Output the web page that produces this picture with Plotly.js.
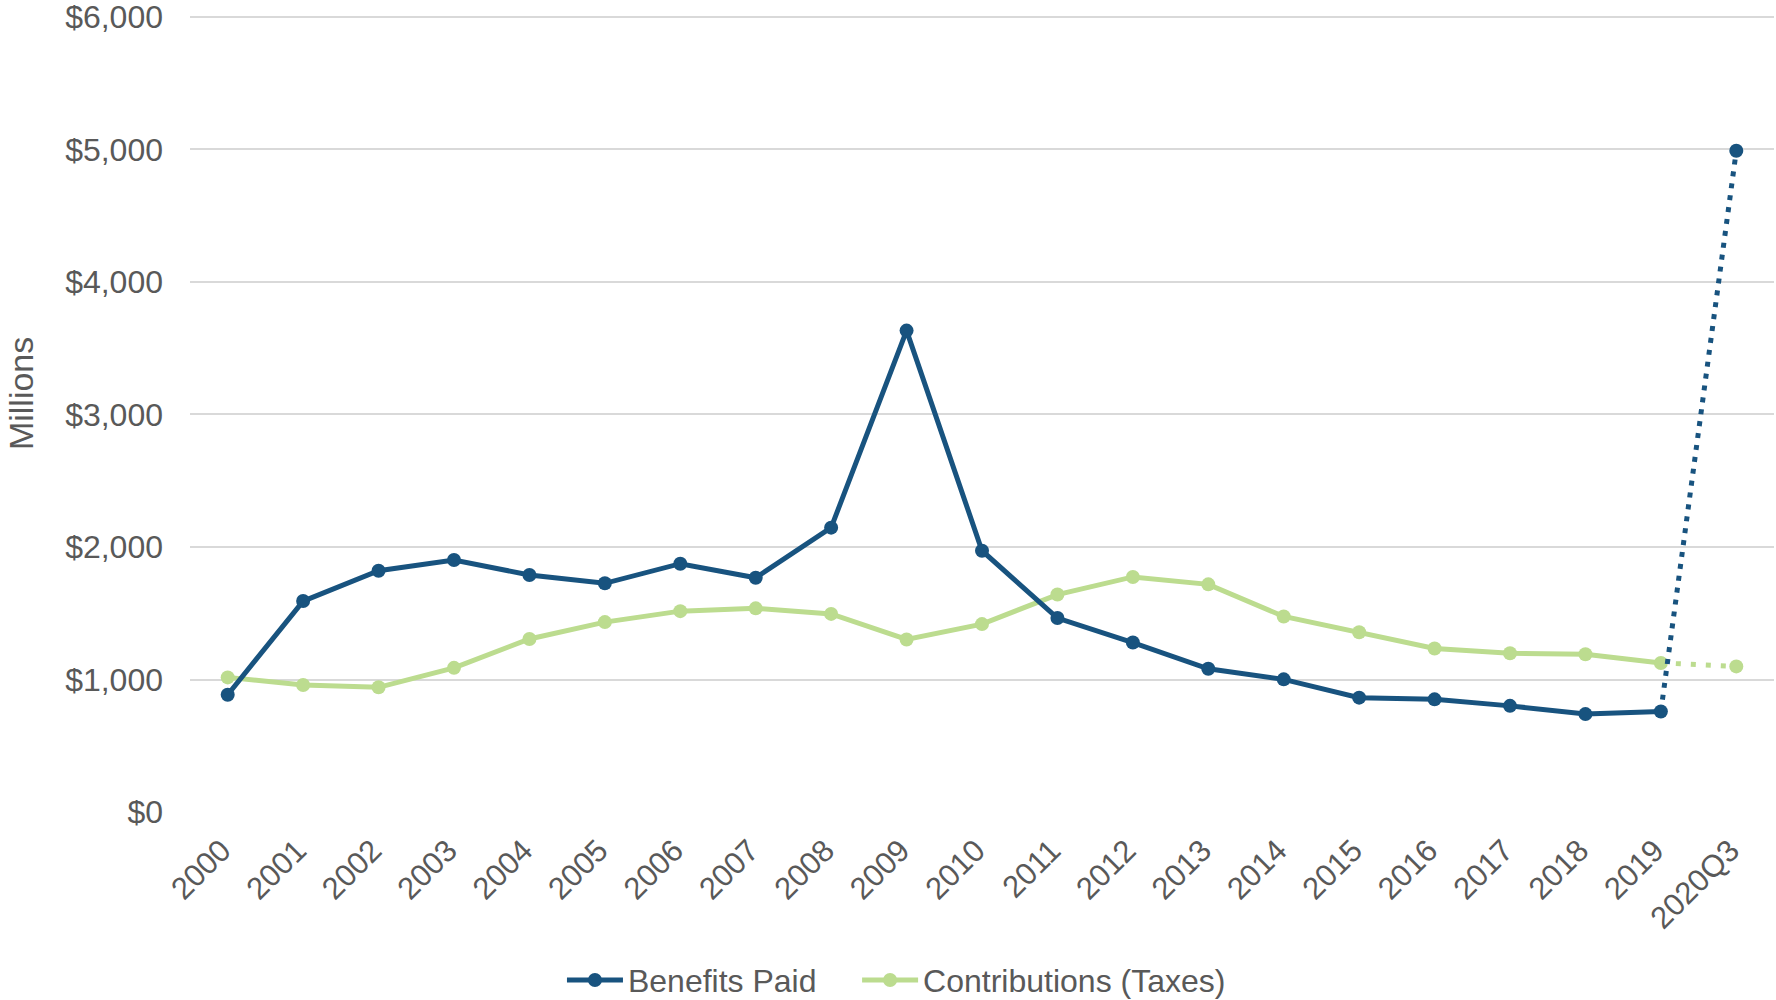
<!DOCTYPE html>
<html>
<head>
<meta charset="utf-8">
<script src="https://cdn.plot.ly/plotly-3.0.1.min.js"></script>
<style>html,body{margin:0;padding:0;background:#fff;}#chart{width:1776px;height:1000px;}</style>
</head>
<body>
<div id="chart"></div>
<script>
const categories = ["2000","2001","2002","2003","2004","2005","2006","2007","2008","2009","2010","2011","2012","2013","2014","2015","2016","2017","2018","2019","2020Q3"];
const benefitsPaid = [885, 1592, 1821, 1902, 1789, 1726, 1874, 1768, 2146, 3633, 1972, 1464, 1279, 1081, 1001, 863, 850, 801, 739, 758, 4990];
const contributions = [1016, 959, 941, 1088, 1306, 1433, 1516, 1537, 1495, 1302, 1418, 1641, 1774, 1718, 1476, 1357, 1234, 1198, 1190, 1125, 1099];
const yTickVals = [0, 1000, 2000, 3000, 4000, 5000, 6000];
const yTickText = ["$0", "$1,000", "$2,000", "$3,000", "$4,000", "$5,000", "$6,000"];

const blue = "#18537f";
const green = "#bcdc8f";
const n = categories.length;
const solidX = categories.slice(0, n - 1);
const dotX = categories.slice(n - 2);

const traces = [
  {x: solidX, y: contributions.slice(0, n - 1), type: "scatter", mode: "lines+markers", name: "Contributions (Taxes)",
   line: {color: green, width: 5}, marker: {color: green, size: 14}, legendgroup: "c"},
  {x: dotX, y: contributions.slice(n - 2), type: "scatter", mode: "lines", showlegend: false,
   line: {color: green, width: 5, dash: "5px,10px"}, legendgroup: "c"},
  {x: [categories[n - 1]], y: [contributions[n - 1]], type: "scatter", mode: "markers", showlegend: false,
   marker: {color: green, size: 14}, legendgroup: "c"},
  {x: solidX, y: benefitsPaid.slice(0, n - 1), type: "scatter", mode: "lines+markers", name: "Benefits Paid\u00A0\u00A0\u00A0\u00A0",
   line: {color: blue, width: 5}, marker: {color: blue, size: 14}, legendgroup: "b"},
  {x: dotX, y: benefitsPaid.slice(n - 2), type: "scatter", mode: "lines", showlegend: false,
   line: {color: blue, width: 5, dash: "5px,7px"}, legendgroup: "b"},
  {x: [categories[n - 1]], y: [benefitsPaid[n - 1]], type: "scatter", mode: "markers", showlegend: false,
   marker: {color: blue, size: 14}, legendgroup: "b"}
];

const layout = {
  width: 1776, height: 1000,
  margin: {l: 190, r: 2, t: 15, b: 188, autoexpand: false},
  paper_bgcolor: "#ffffff", plot_bgcolor: "#ffffff",
  font: {family: "Liberation Sans, Arial, sans-serif", color: "#595959"},
  showlegend: true,
  legend: {orientation: "h", x: 0.446, xanchor: "center", y: -0.211, yanchor: "middle",
           font: {size: 32, color: "#595959"}, itemwidth: 56, traceorder: "reversed"},
  xaxis: {type: "category", categoryorder: "array", categoryarray: categories,
          range: [-0.5, n - 0.5], tickangle: -45, tickfont: {size: 31, color: "#595959"},
          showgrid: false, zeroline: false, showline: false, ticks: "", ticklabelstandoff: 13,
          ticklabelshift: -6, automargin: false},
  yaxis: {range: [0, 6015], tickvals: yTickVals, ticktext: yTickText,
          tickfont: {size: 32, color: "#595959"}, showgrid: true, gridcolor: "#d9d9d9", gridwidth: 2,
          zeroline: false, showline: false, ticks: "", ticklabelstandoff: 26, automargin: false,
          ticklabeloverflow: "allow"},
  annotations: [{text: "Millions", xref: "paper", yref: "paper", x: -0.107, y: 0.525,
                 xanchor: "center", yanchor: "middle", textangle: -90, showarrow: false,
                 font: {size: 34, color: "#595959"}}]
};

Plotly.newPlot("chart", traces, layout, {displayModeBar: false, staticPlot: true});
</script>
</body>
</html>
